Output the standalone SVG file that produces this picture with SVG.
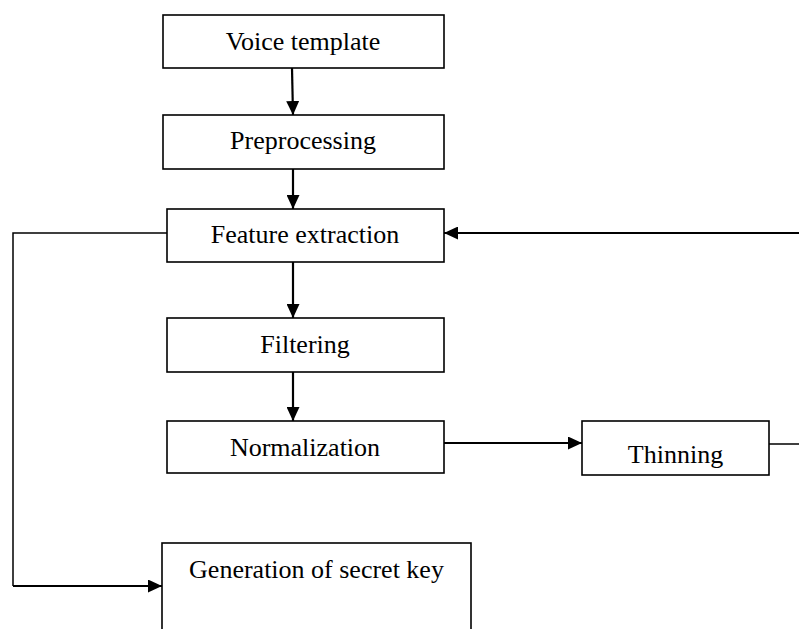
<svg xmlns="http://www.w3.org/2000/svg" width="799" height="629" viewBox="0 0 799 629">
<style>
.box{fill:#fff;stroke:#000;stroke-width:1.6}
.lbl{font-family:"Liberation Serif","Times New Roman",serif;font-size:26px;fill:#000;text-anchor:middle}
.con{fill:none;stroke:#000;stroke-width:2.2}
.thin{fill:none;stroke:#000;stroke-width:1.5}
</style>
<defs>
<marker id="ah" markerUnits="userSpaceOnUse" markerWidth="15" markerHeight="13" refX="14" refY="6.5" orient="auto">
<path d="M0,0 L14,6.5 L0,13 z" fill="#000"/>
</marker>
</defs>
<rect width="799" height="629" fill="#fff"/>
<g id="connectors">
<line class="con" x1="292" y1="68" x2="293" y2="115" marker-end="url(#ah)"/>
<line class="con" x1="293" y1="169" x2="293" y2="209" marker-end="url(#ah)"/>
<line class="con" x1="293" y1="262" x2="293" y2="318" marker-end="url(#ah)"/>
<line class="con" x1="293" y1="372" x2="293" y2="421" marker-end="url(#ah)"/>
<line class="con" x1="444" y1="443" x2="582" y2="443" marker-end="url(#ah)"/>
<polyline class="thin" points="167,233 13,233 13,586"/>
<line class="con" x1="13" y1="586" x2="162" y2="586" marker-end="url(#ah)"/>
<polyline class="thin" points="769,444 801,444 801,233"/>
<line class="con" x1="801" y1="233" x2="444" y2="233" marker-end="url(#ah)"/>
</g>
<g id="voice-template">
<rect class="box" x="163" y="15" width="281" height="53"/>
<text class="lbl" x="303" y="50">Voice template</text>
</g>
<g id="preprocessing">
<rect class="box" x="163" y="115" width="281" height="54"/>
<text class="lbl" x="303" y="149">Preprocessing</text>
</g>
<g id="feature-extraction">
<rect class="box" x="167" y="209" width="277" height="53"/>
<text class="lbl" x="305" y="243">Feature extraction</text>
</g>
<g id="filtering">
<rect class="box" x="167" y="318" width="277" height="54"/>
<text class="lbl" x="305" y="353">Filtering</text>
</g>
<g id="normalization">
<rect class="box" x="167" y="421" width="277" height="52"/>
<text class="lbl" x="305" y="456">Normalization</text>
</g>
<g id="thinning">
<rect class="box" x="582" y="421" width="187" height="54"/>
<text class="lbl" x="675.5" y="463">Thinning</text>
</g>
<g id="generation-of-secret-key">
<rect class="box" x="162" y="543" width="309" height="100"/>
<text class="lbl" x="316.5" y="578">Generation of secret key</text>
</g>
</svg>
